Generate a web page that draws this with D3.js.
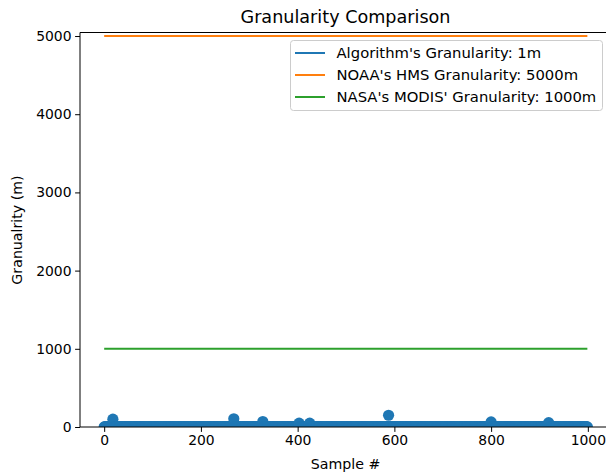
<!DOCTYPE html>
<html><head><meta charset="utf-8">
<script src="https://cdn.jsdelivr.net/npm/d3@7"></script>
<style>body{margin:0;background:#fff}text{font-family:"DejaVu Sans",sans-serif;fill:#000}</style>
</head><body><svg id="c" width="606" height="476"></svg>
<script>
// Data
const sampleCount = 1000;              // samples 0..999
const algorithmGranularity = 1;        // metres
const noaaGranularity = 5000;          // metres
const modisGranularity = 1000;         // metres
const outlierSamples = [18, 268, 328, 403, 425, 588, 800, 919];
const outlierValues  = [100, 105, 70, 50, 50, 150, 65, 55];
const xTicks = [0, 200, 400, 600, 800, 1000];
const yTicks = [0, 1000, 2000, 3000, 4000, 5000];
const seriesNames = ["Algorithm's Granularity: 1m", "NOAA's HMS Granularity: 5000m", "NASA's MODIS' Granularity: 1000m"];
const seriesColors = ["#1f77b4", "#ff7f0e", "#2ca02c"];

const svg = d3.select("#c");
const L = 80, R = 612, T = 32.5, B = 427;
const x = d3.scaleLinear().domain([-50, 1049.95]).range([L, R]);
const y = d3.scaleLinear().domain([0, 5045]).range([B, T]);

svg.append("defs").append("clipPath").attr("id", "clip")
  .append("rect").attr("x", L).attr("y", T).attr("width", R - L).attr("height", B - T);

const samples = d3.range(sampleCount);
const outMap = new Map(outlierSamples.map((s, i) => [s, outlierValues[i]]));
const points = samples.map(s => ({s, v: outMap.has(s) ? outMap.get(s) : algorithmGranularity}));

const g = svg.append("g").attr("clip-path", "url(#clip)");
const line = d3.line().x(d => x(d[0])).y(d => y(d[1]));
// scatter
g.selectAll("circle").data(points).join("circle")
  .attr("cx", d => x(d.s)).attr("cy", d => y(d.v)).attr("r", 5.6)
  .attr("fill", seriesColors[0]);
// lines
const lineVals = [algorithmGranularity, noaaGranularity, modisGranularity];
lineVals.forEach((v, i) => {
  g.append("path").datum([[0, v], [sampleCount - 1, v]])
    .attr("d", line).attr("stroke", seriesColors[i]).attr("stroke-width", 2).attr("fill", "none");
});

// axes
const xa = svg.append("g").attr("transform", `translate(0,${B})`)
  .call(d3.axisBottom(x).tickValues(xTicks).tickFormat(d3.format("d")).tickSize(4.9).tickSizeOuter(0));
const ya = svg.append("g").attr("transform", `translate(${L},0)`)
  .call(d3.axisLeft(y).tickValues(yTicks).tickFormat(d3.format("d")).tickSize(4.9).tickSizeOuter(0));
[xa, ya].forEach(a => {
  a.select(".domain").remove();
  a.selectAll("line").attr("stroke", "#000").attr("stroke-width", 1);
  a.selectAll("text").attr("font-size", "13.9px").attr("font-family", "DejaVu Sans").attr("fill", "#000");
});
xa.selectAll("text").attr("dy", "0.71em").attr("y", 8.5);
ya.selectAll("text").attr("x", -8.5);

// spines
svg.append("line").attr("x1", L).attr("x2", L).attr("y1", T).attr("y2", B).attr("stroke", "#000").attr("stroke-width", 1);
svg.append("line").attr("x1", L).attr("x2", R).attr("y1", B).attr("y2", B).attr("stroke", "#000").attr("stroke-width", 1);
svg.append("line").attr("x1", L).attr("x2", R).attr("y1", T).attr("y2", T).attr("stroke", "#000").attr("stroke-width", 1);

// labels
svg.append("text").attr("x", 345.5).attr("y", 23).attr("text-anchor", "middle").attr("font-size", "17.6px").text("Granularity Comparison");
svg.append("text").attr("x", 345.5).attr("y", 469).attr("text-anchor", "middle").attr("font-size", "14.2px").text("Sample #");
svg.append("text").attr("transform", "translate(22,230) rotate(-90)").attr("text-anchor", "middle").attr("font-size", "14.2px").text("Granualrity (m)");

// legend
const lg = svg.append("g");
lg.append("rect").attr("x", 290.5).attr("y", 40.5).attr("width", 312).attr("height", 70).attr("rx", 3)
  .attr("fill", "#fff").attr("fill-opacity", 0.8).attr("stroke", "#ccc").attr("stroke-width", 1);
seriesNames.forEach((n, i) => {
  const yy = 53 + i * 22;
  lg.append("line").attr("x1", 295).attr("x2", 325).attr("y1", yy).attr("y2", yy).attr("stroke", seriesColors[i]).attr("stroke-width", 2);
  lg.append("text").attr("x", 336.5).attr("y", yy).attr("dy", "0.36em").attr("font-size", "14.8px").text(n);
});
</script></body></html>
